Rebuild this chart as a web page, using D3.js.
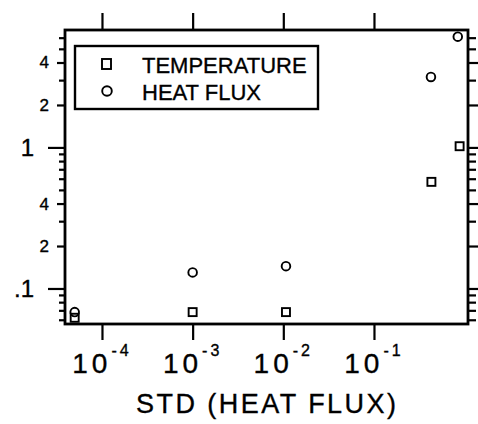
<!DOCTYPE html>
<html>
<head>
<meta charset="utf-8">
<script src="https://cdn.jsdelivr.net/npm/d3@7"></script>
<style>
  body { margin: 0; background: #fff; }
  text { font-family: "Liberation Sans", Arial, sans-serif; fill: #000; stroke: #000; stroke-width: 0.35px; }
</style>
</head>
<body>
<svg id="chart" width="478" height="424"></svg>
<script>
// values
var tempX = [5.0e-5, 1.0e-3, 1.07e-2, 0.43, 0.88];
var tempY = [0.062, 0.068, 0.068, 0.57, 1.02];
var fluxX = [5.0e-5, 1.0e-3, 1.07e-2, 0.425, 0.84];
var fluxY = [0.068, 0.130, 0.144, 3.16, 6.1];

var xTicks = [1e-4, 1e-3, 1e-2, 1e-1];
var xTickExp = ["-4", "-3", "-2", "-1"];
var yMajor = [0.1, 1];
var yMajorLabels = [".1", "1"];
var yMid = [0.2, 0.4, 2, 4];
var yMidLabels = ["2", "4", "2", "4"];
var seriesNames = ["TEMPERATURE", "HEAT FLUX"];
var xTitle = "STD (HEAT FLUX)";

var svg = d3.select("#chart"),
    margin = { top: 30, right: 10, bottom: 100, left: 65 },
    width = +svg.attr("width") - margin.left - margin.right,
    height = +svg.attr("height") - margin.top - margin.bottom,
    g = svg.append("g").attr("transform", "translate(" + margin.left + "," + margin.top + ")");

var x = d3.scaleLog().domain([3.91e-5, 1.089]).range([0, width]);
var y = d3.scaleLog().domain([0.056, 6.8]).range([height, 0]);

var minor = y.ticks().filter(function (d) {
    return yMajor.concat(yMid).every(function (m) { return Math.abs(m - d) / m > 1e-6; });
});

function tidy(sel) {
    sel.select(".domain").remove();
    sel.selectAll("line").attr("stroke", "#000").attr("stroke-width", 2.2);
}

// left side
g.append("g").call(d3.axisLeft(y).tickValues(minor).tickSize(6).tickFormat("")).call(tidy);
g.append("g")
    .call(d3.axisLeft(y).tickValues(yMid).tickSize(8).tickPadding(8)
        .tickFormat(function (d, i) { return yMidLabels[i]; }))
    .call(tidy)
    .selectAll("text").attr("font-size", "17px").attr("font-family", null);
g.append("g")
    .call(d3.axisLeft(y).tickValues(yMajor).tickSize(17).tickPadding(14)
        .tickFormat(function (d, i) { return yMajorLabels[i]; }))
    .call(tidy)
    .selectAll("text").attr("font-size", "24px").attr("font-family", null);

// right side
g.append("g").attr("transform", "translate(" + width + ",0)")
    .call(d3.axisRight(y).tickValues(minor).tickSize(8).tickFormat("")).call(tidy);
g.append("g").attr("transform", "translate(" + width + ",0)")
    .call(d3.axisRight(y).tickValues(yMid.concat(yMajor)).tickSize(12).tickFormat("")).call(tidy);

// top and bottom
g.append("g").call(d3.axisTop(x).tickValues(xTicks).tickSize(17).tickFormat("")).call(tidy);
g.append("g").attr("transform", "translate(0," + height + ")")
    .call(d3.axisBottom(x).tickValues(xTicks).tickSize(16).tickFormat("")).call(tidy);

var lab = g.append("g").selectAll("text")
    .data(xTicks)
    .enter().append("text")
    .attr("x", function (d) { return x(d); })
    .attr("y", height + 49)
    .attr("text-anchor", "middle");
lab.append("tspan").attr("font-size", "28px").attr("letter-spacing", "4px").text("10");
lab.append("tspan").attr("font-size", "16px").attr("letter-spacing", "3px").attr("dy", -17)
    .text(function (d, i) { return xTickExp[i]; });

svg.append("text")
    .attr("x", margin.left + width / 2 - 0.5)
    .attr("y", 413)
    .attr("text-anchor", "middle")
    .attr("font-size", "27px")
    .attr("textLength", 260)
    .attr("lengthAdjust", "spacing")
    .text(xTitle);

// frame
g.append("rect")
    .attr("width", width).attr("height", height)
    .attr("fill", "none").attr("stroke", "#000").attr("stroke-width", 2.8);

// points
g.append("g").selectAll("rect")
    .data(d3.range(tempX.length))
    .enter().append("rect")
    .attr("x", function (i) { return x(tempX[i]) - 4; })
    .attr("y", function (i) { return y(tempY[i]) - 4; })
    .attr("width", 8).attr("height", 8)
    .attr("fill", "none").attr("stroke", "#000").attr("stroke-width", 1.9);

g.append("g").selectAll("circle")
    .data(d3.range(fluxX.length))
    .enter().append("circle")
    .attr("cx", function (i) { return x(fluxX[i]); })
    .attr("cy", function (i) { return y(fluxY[i]); })
    .attr("r", 4.3)
    .attr("fill", "none").attr("stroke", "#000").attr("stroke-width", 1.9);

// legend
var legend = svg.append("g").attr("transform", "translate(75,46)");
legend.append("rect")
    .attr("width", 243).attr("height", 63)
    .attr("fill", "#fff").attr("stroke", "#000").attr("stroke-width", 2.4);
legend.append("rect")
    .attr("x", 27).attr("y", 13).attr("width", 9).attr("height", 10)
    .attr("fill", "none").attr("stroke", "#000").attr("stroke-width", 1.9);
legend.append("circle")
    .attr("cx", 32).attr("cy", 45).attr("r", 4.8)
    .attr("fill", "none").attr("stroke", "#000").attr("stroke-width", 1.9);
legend.selectAll("text.name")
    .data(seriesNames)
    .enter().append("text")
    .attr("class", "name")
    .attr("x", 67)
    .attr("y", function (d, i) { return 27 + i * 27; })
    .attr("font-size", "22px")
    .text(function (d) { return d; });
</script>
</body>
</html>
